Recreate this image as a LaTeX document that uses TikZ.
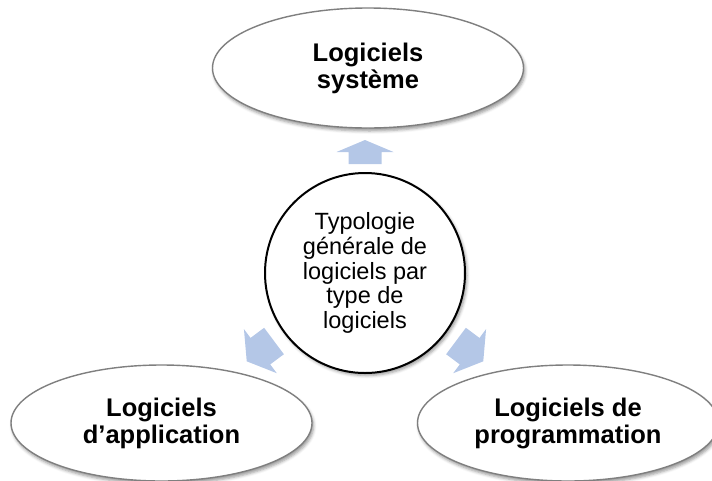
\documentclass[tikz,border=0pt]{standalone}
\usepackage{fontspec}
\setmainfont{Liberation Sans}
\usetikzlibrary{shapes.geometric,shadows.blur}
\definecolor{arrowblue}{HTML}{B4C7E7}
\definecolor{ringgray}{HTML}{7F7F7F}
\begin{document}
\begin{tikzpicture}[x=1pt,y=-1pt,
  outerbox/.style={ellipse, draw=ringgray, line width=1.4pt, fill=white, inner sep=0pt,
    minimum width=301pt, minimum height=116pt, align=center,
    font=\fontsize{25.5}{27}\selectfont\bfseries,
    blur shadow={shadow xshift=1.5pt, shadow yshift=-3pt, shadow blur radius=3pt, shadow opacity=40}},
  hub/.style={circle, draw=black, line width=2pt, fill=white, inner sep=0pt,
    minimum size=200pt, align=center,
    font=\fontsize{23.5}{24.7}\selectfont,
    blur shadow={shadow xshift=2pt, shadow yshift=-2.5pt, shadow blur radius=3pt, shadow opacity=40}},
  blockarrow/.style={fill=arrowblue, draw=none}
]
\useasboundingbox (0,0) rectangle (712,480);

\node[outerbox, minimum width=311pt, minimum height=120pt] (sys) at (368,68) {Logiciels\\système};
\node[outerbox] (app) at (161.5,423) {Logiciels\\d’application};
\node[outerbox] (prog) at (568,423) {Logiciels de\\programmation};
\node[hub] (center) at (365,273) {Typologie\\générale de\\logiciels par\\type de\\logiciels};

% block arrows (drawn in a local frame pointing along +x)
\coordinate (baseup) at (365,164);
\coordinate (baseleft) at (274,341);
\coordinate (baseright) at (456,341);

\begin{scope}[shift={(baseup)}, rotate=90]
  \fill[blockarrow] (0pt,-16.5pt) -- (12pt,-16.5pt) -- (12pt,-28.5pt) -- (24pt,0pt)
    -- (12pt,28.5pt) -- (12pt,16.5pt) -- (0pt,16.5pt) -- cycle;
\end{scope}
\begin{scope}[shift={(baseleft)}, rotate=216.7]
  \fill[blockarrow] (0pt,-16.5pt) -- (17pt,-16.5pt) -- (17pt,-27.5pt) -- (34pt,0pt)
    -- (17pt,27.5pt) -- (17pt,16.5pt) -- (0pt,16.5pt) -- cycle;
\end{scope}
\begin{scope}[shift={(baseright)}, rotate=323.3]
  \fill[blockarrow] (0pt,-16.5pt) -- (17pt,-16.5pt) -- (17pt,-27.5pt) -- (34pt,0pt)
    -- (17pt,27.5pt) -- (17pt,16.5pt) -- (0pt,16.5pt) -- cycle;
\end{scope}
\end{tikzpicture}
\end{document}
